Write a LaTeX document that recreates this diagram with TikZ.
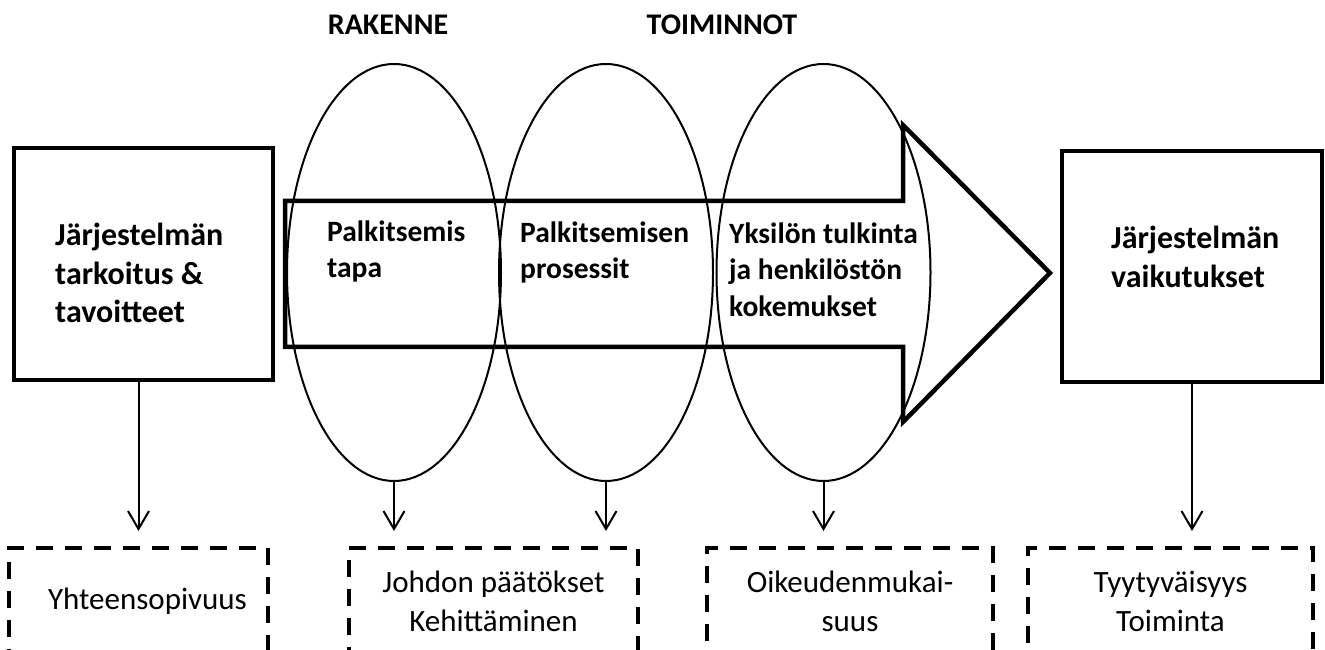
\documentclass[tikz,border=0pt]{standalone}
\usepackage{fontspec}
\setmainfont{Carlito}
\usetikzlibrary{arrows.meta,shapes.geometric}
\begin{document}
\begin{tikzpicture}[x=1pt,y=1pt,
  bigbox/.style={draw,line width=4.5pt,inner sep=0pt,minimum width=259pt,minimum height=232pt},
  ell/.style={draw,ellipse,line width=2pt,inner sep=0pt,minimum width=214pt,minimum height=417pt},
  dbox/.style={draw,line width=4pt,dash pattern=on 17pt off 12pt,minimum height=106pt,inner sep=0pt,align=center,font=\fontsize{31}{39}\selectfont},
  bigtxt/.style={anchor=north west,inner sep=0pt,align=left,font=\fontsize{32}{38.5}\selectfont\bfseries},
  arrtxt/.style={anchor=north west,inner sep=0pt,align=left,font=\fontsize{29.5}{36.5}\selectfont\bfseries},
  toptxt/.style={anchor=base,inner sep=0pt,font=\fontsize{30}{36}\selectfont\bfseries},
  conn/.style={line width=2pt,-{Straight Barb[length=18pt,width=21pt]},shorten >=15pt},
  bigarrow/.style={line width=4.5pt,line join=miter}
]
\useasboundingbox (0,0) rectangle (1325,650);
\clip (0,0) rectangle (1325,650);

% top labels
\node[toptxt] (rak) at (388,615) {RAKENNE};
\node[toptxt] (toi) at (722,615) {TOIMINNOT};

% ellipses
\node[ell] (e1) at (394,377.5) {};
\node[ell] (e2) at (606,377.5) {};
\node[ell] (e3) at (823.5,377.5) {};

% big arrow
\draw[bigarrow] (285,449) -- (903,449) -- (903,525) -- (1050,377) -- (903,228) -- (903,303) -- (285,303) -- cycle;

% boxes
\node[bigbox] (lbox) at (143.5,386) {};
\node[bigbox,minimum width=260pt,minimum height=231pt] (rbox) at (1192,383.5) {};

% texts
\node[bigtxt] (ltxt) at (55,431.6) {\strut J\"arjestelm\"an\\tarkoitus \&\\tavoitteet};
\node[bigtxt] (rtxt) at (1111,428.6) {\strut J\"arjestelm\"an\\vaikutukset};
\node[arrtxt] (t1) at (327,434.5) {\strut Palkitsemis\\tapa};
\node[arrtxt] (t2) at (520,433.5) {\strut Palkitsemisen\\prosessit};
\node[arrtxt] (t3) at (729,432.5) {\strut Yksil\"on tulkinta\\ja henkil\"ost\"on\\kokemukset};

% dashed boxes
\node[dbox,minimum width=259pt] (d1) at (138.5,49) {\hspace*{18pt}Yhteensopivuus};
\node[dbox,minimum width=289pt] (d2) at (493.5,49) {Johdon p\"a\"at\"okset\\Kehitt\"aminen};
\node[dbox,minimum width=286pt] (d3) at (850,49) {Oikeudenmukai-\\suus};
\node[dbox,minimum width=285pt] (d4) at (1170.5,49) {Tyytyv\"aisyys\\Toiminta};

% connectors
\draw[conn] (lbox.south -| d1.north) -- (d1.north);
\draw[conn] (e1.south) -- (e1.south |- d2.north);
\draw[conn] (e2.south) -- (e2.south |- d2.north);
\draw[conn] (e3.south) -- (e3.south |- d3.north);
\draw[conn] (rbox.south) -- (rbox.south |- d4.north);
\end{tikzpicture}
\end{document}
